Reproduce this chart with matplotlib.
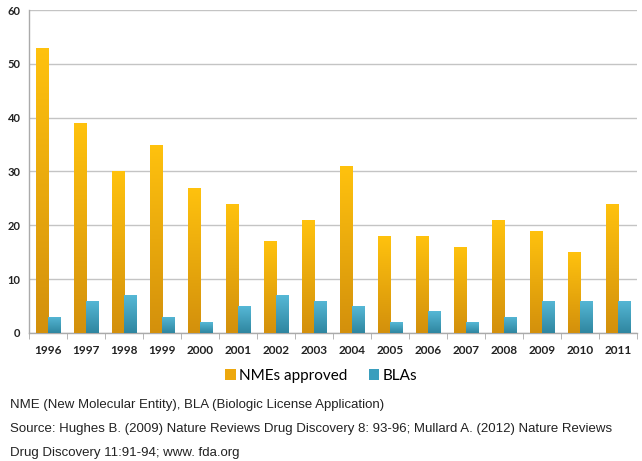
import numpy as np
import matplotlib
matplotlib.use("Agg")
import matplotlib.pyplot as plt
from matplotlib.colors import LinearSegmentedColormap
from matplotlib.patches import Patch

# data
years = ["1996", "1997", "1998", "1999", "2000", "2001", "2002", "2003",
         "2004", "2005", "2006", "2007", "2008", "2009", "2010", "2011"]
nmes = [53, 39, 30, 35, 27, 24, 17, 21, 31, 18, 18, 16, 21, 19, 15, 24]
blas = [3, 6, 7, 3, 2, 5, 7, 6, 5, 2, 4, 2, 3, 6, 6, 6]
series_names = ["NMEs approved", "BLAs"]
yticks = [0, 10, 20, 30, 40, 50, 60]
notes = [
    "NME (New Molecular Entity), BLA (Biologic License Application)",
    "Source: Hughes B. (2009) Nature Reviews Drug Discovery 8: 93-96; Mullard A. (2012) Nature Reviews",
    "Drug Discovery 11:91-94; www. fda.org",
]

orange_cm = LinearSegmentedColormap.from_list("o", ["#d3900c", "#ffc20e"])
blue_cm = LinearSegmentedColormap.from_list("b", ["#2f86a0", "#56b8d6"])

fig = plt.figure(figsize=(6.42, 4.61), dpi=100)
ax = fig.add_axes([0.045, 0.278, 0.947, 0.700])

x = np.arange(len(years))
w = 0.32
bars_o = ax.bar(x - w / 2, nmes, w, color="#f0aa0c", zorder=3)
bars_b = ax.bar(x + w / 2, blas, w, color="#41a3c2", zorder=3)

grad = np.linspace(0, 1, 256).reshape(-1, 1)
for bars, cm in [(bars_o, orange_cm), (bars_b, blue_cm)]:
    for b in bars:
        x0, y0 = b.get_x(), b.get_y()
        im = ax.imshow(grad, cmap=cm, origin="lower", aspect="auto",
                       extent=(x0, x0 + b.get_width(), y0, y0 + b.get_height()),
                       zorder=4)
        im.set_clip_path(b)

ax.set_xlim(-0.5, len(years) - 0.5)
ax.set_ylim(0, 60)
ax.set_yticks(yticks)
ax.set_yticklabels([str(t) for t in yticks], fontsize=8, fontweight="bold",
                   family=["Lato", "DejaVu Sans"], color="#222222")
ax.tick_params(axis="y", length=0, pad=6)
ax.yaxis.grid(True, color="#c4c4c4", linewidth=1.0, zorder=0)

ax.set_xticks(x)
ax.set_xticklabels(years, fontsize=8.5, fontweight="bold",
                   family=["Lato", "DejaVu Sans"], color="#222222")
ax.tick_params(axis="x", length=0, pad=9)
ax.set_xticks(np.arange(-0.5, len(years), 1), minor=True)
ax.tick_params(axis="x", which="minor", length=4, color="#aaaaaa")

for s in ["top", "right"]:
    ax.spines[s].set_visible(False)
for s in ["left", "bottom"]:
    ax.spines[s].set_color("#aaaaaa")
    ax.spines[s].set_linewidth(1.0)

handles = [Patch(facecolor="#eda80d"), Patch(facecolor="#3a9ebd")]
fig.legend(handles, series_names, loc="center", bbox_to_anchor=(0.5, 0.185),
           ncol=2, frameon=False, handlelength=0.7, handleheight=0.7,
           handletextpad=0.2, columnspacing=1.4,
           prop={"family": ["Lato", "DejaVu Sans"], "size": 11})

note_family = ["Liberation Sans", "DejaVu Sans"]
for i, t in enumerate(notes):
    fig.text(0.016, 1 - (405 + i * 24) / 461, t, fontsize=9.5,
             family=note_family, color="#222222", va="center", ha="left")

fig.savefig("out.png", dpi=100)
